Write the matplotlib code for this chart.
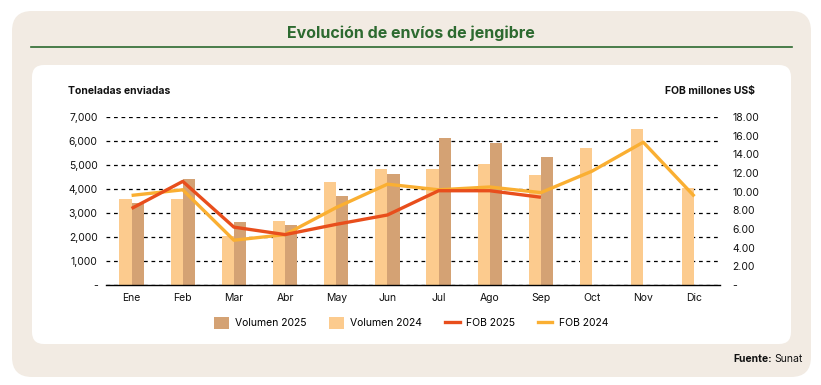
import matplotlib
matplotlib.use("Agg")
import matplotlib.pyplot as plt
from matplotlib.patches import FancyBboxPatch, Patch
from matplotlib.lines import Line2D
from matplotlib.ticker import FuncFormatter, MultipleLocator
import numpy as np

plt.rcParams['font.family'] = ['Inter', 'DejaVu Sans']

months = ["Ene", "Feb", "Mar", "Abr", "May", "Jun", "Jul", "Ago", "Sep", "Oct", "Nov", "Dic"]
vol_2025 = [3400, 4420, 2610, 2500, 3720, 4640, 6130, 5900, 5350, None, None, None]
vol_2024 = [3580, 3580, 2040, 2660, 4290, 4850, 4830, 5050, 4590, 5690, 6520, 4030]
fob_2025 = [8.2, 11.1, 6.2, 5.4, 6.5, 7.5, 10.1, 10.1, 9.4, None, None, None]
fob_2024 = [9.6, 10.2, 4.8, 5.4, 8.3, 10.8, 10.2, 10.5, 9.9, 12.2, 15.3, 9.5]

C_DARK = "#D4A274"
C_LIGHT = "#FCCB8E"
C_RED = "#E84E1C"
C_YEL = "#FAAF32"
C_GREEN = "#2D6A30"
C_BEIGE = "#F2EBE3"

W, H = 821, 385
fig = plt.figure(figsize=(W / 100, H / 100), dpi=100)
fig.patch.set_facecolor("white")

# background axes in pixel coordinates
bg = fig.add_axes([0, 0, 1, 1], zorder=-10)
bg.set_xlim(0, W)
bg.set_ylim(H, 0)
bg.axis("off")
bg.add_patch(FancyBboxPatch((12 + 20, 11 + 20), 799 - 40, 366 - 40,
                            boxstyle="round,pad=20", fc=C_BEIGE, ec="none"))
bg.add_patch(FancyBboxPatch((32 + 12, 65 + 12), 759 - 24, 279 - 24,
                            boxstyle="round,pad=12", fc="white", ec="none"))
bg.plot([31, 792], [47, 47], color=C_GREEN, lw=1.2)
bg.text(411, 33, "Evolución de envíos de jengibre", ha="center", va="center",
        fontsize=11.5, fontweight="bold", color=C_GREEN)
bg.text(68, 91, "Toneladas enviadas", ha="left", va="center", fontsize=7.5,
        fontweight="bold", color="#111111")
bg.text(755, 91, "FOB millones US$", ha="right", va="center", fontsize=7.5,
        fontweight="bold", color="#111111")
t_sun = bg.text(803, 359, "Sunat", ha="right", va="center", fontsize=7.5, color="#111111")
fig.canvas.draw()
r = fig.canvas.get_renderer()
bb = t_sun.get_window_extent(r)
x_data = bg.transData.inverted().transform((bb.x0, 0))[0]
bg.text(x_data - 3, 359, "Fuente:", ha="right", va="center", fontsize=7.5,
        fontweight="bold", color="#111111")

# main chart
x0, x1, y0, y1 = 106, 720, 117, 285
ax = fig.add_axes([x0 / W, 1 - y1 / H, (x1 - x0) / W, (y1 - y0) / H])
ax.set_facecolor("none")
x = np.arange(len(months))
bw = 0.238
v24 = np.array(vol_2024, dtype=float)
v25 = np.array([np.nan if v is None else v for v in vol_2025], dtype=float)
ax.bar(x - bw / 2, v24, width=bw, color=C_LIGHT, zorder=3)
ax.bar(x + bw / 2, np.nan_to_num(v25), width=bw, color=C_DARK, zorder=3)
ax.set_xlim(-0.5, 11.5)
ax.set_ylim(0, 7000)
ax.yaxis.set_major_locator(MultipleLocator(1000))
ax.yaxis.set_major_formatter(FuncFormatter(lambda v, p: "-" if v == 0 else f"{v:,.0f}"))
ax.grid(axis="y", color="black", linestyle=(0, (3, 3)), lw=0.9, zorder=1)
for s in ["top", "right", "left"]:
    ax.spines[s].set_visible(False)
ax.spines["bottom"].set_color("black")
ax.spines["bottom"].set_linewidth(1.0)
ax.spines["bottom"].set_zorder(5)
ax.set_xticks(x)
ax.set_xticklabels(months)
ax.tick_params(axis="both", length=0, labelsize=7.5, colors="#111111")
ax.tick_params(axis="x", pad=6)
ax.tick_params(axis="y", pad=6)

ax2 = ax.twinx()
ax2.set_ylim(0, 18)
ax2.yaxis.set_major_locator(MultipleLocator(2))
ax2.yaxis.set_major_formatter(FuncFormatter(lambda v, p: "-" if v == 0 else f"{v:.2f}"))
ax2.tick_params(axis="y", length=0, labelsize=7.5, colors="#111111", pad=9)
for s in ["top", "right", "left", "bottom"]:
    ax2.spines[s].set_visible(False)
f25 = np.array([np.nan if v is None else v for v in fob_2025], dtype=float)
f24 = np.array(fob_2024, dtype=float)
ax2.plot(x, f24, color=C_YEL, lw=2.4, zorder=4, solid_capstyle="butt")
ax2.plot(x, f25, color=C_RED, lw=2.4, zorder=5, solid_capstyle="butt")

handles = [Patch(fc=C_DARK, ec="none"), Patch(fc=C_LIGHT, ec="none"),
           Line2D([], [], color=C_RED, lw=2.4), Line2D([], [], color=C_YEL, lw=2.4)]
labels = ["Volumen 2025", "Volumen 2024", "FOB 2025", "FOB 2024"]
fig.legend(handles, labels, loc="center", bbox_to_anchor=(411 / W, 1 - 323 / H), ncol=4,
           frameon=False, fontsize=7.5, handlelength=1.4, handleheight=1.4,
           columnspacing=2.2, handletextpad=0.6)

fig.savefig("out.png", dpi=100, facecolor="white")
